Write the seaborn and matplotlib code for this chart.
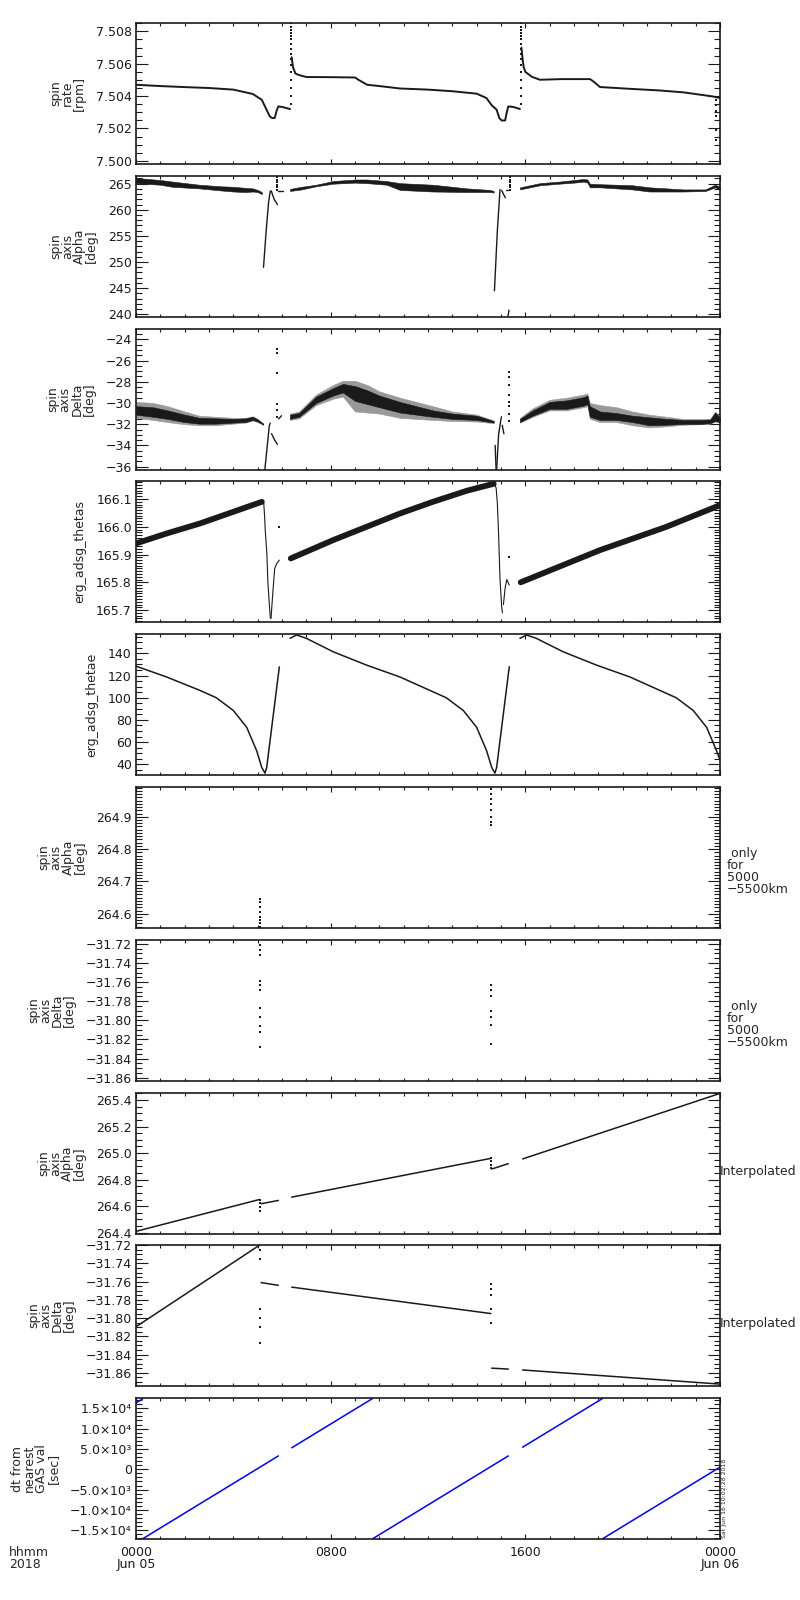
import matplotlib
matplotlib.use('Agg')
import matplotlib.pyplot as plt
import matplotlib.ticker as mticker
import pandas as pd
import seaborn as sns

sns.set_theme(style='white')
plt.rcParams['font.family'] = ['DejaVu Sans']
plt.rcParams.update({
    'xtick.direction': 'in', 'ytick.direction': 'in',
    'xtick.top': True, 'ytick.right': True,
    'xtick.bottom': True, 'ytick.left': True,
    'xtick.major.size': 3.6, 'xtick.minor.size': 2.2,
    'ytick.major.size': 8.6, 'ytick.minor.size': 4.3,
    'xtick.major.width': 0.8, 'xtick.minor.width': 0.8,
    'ytick.major.width': 0.8, 'ytick.minor.width': 0.8,
    'xtick.color': 'k', 'ytick.color': 'k',
    'axes.edgecolor': 'k', 'axes.linewidth': 1.2,
    'xtick.labelsize': 9, 'ytick.labelsize': 9,
    'ytick.major.pad': 3, 'xtick.major.pad': 5,
})

# ---- data (hours of 2018-06-05) ----

# spin rate [rpm]
rate_h = [[0.0, 1.0, 2.1, 3.0, 4.0, 4.8, 5.17, 5.3, 5.4, 5.5, 5.6, 5.7, 5.78, 5.85, 6.0, 6.33],
          [6.40, 6.45, 6.55, 6.7, 7.0, 8.0, 9.0, 9.15, 9.5, 10.0, 10.85, 12.0, 13.0, 14.0, 14.4,
           14.62, 14.82, 14.93, 15.03, 15.17, 15.23, 15.3, 15.5, 15.78],
          [15.84, 15.88, 15.93, 16.0, 16.26, 16.6, 17.5, 18.66, 18.8, 19.07, 20.4, 21.5, 22.5, 23.7, 24.0]]
rate_v = [[7.5047, 7.50462, 7.50455, 7.5045, 7.5044, 7.50413, 7.50377, 7.50336, 7.50305, 7.50274,
           7.50264, 7.50264, 7.5031, 7.50336, 7.50333, 7.5032],
          [7.5064, 7.5058, 7.5054, 7.5053, 7.50518, 7.50517, 7.50515, 7.5050, 7.5047, 7.50462, 7.50447,
           7.5044, 7.5043, 7.50415, 7.50388, 7.50343, 7.50316, 7.50264, 7.50249, 7.50249, 7.50295,
           7.50336, 7.50333, 7.5032],
          [7.5070, 7.5064, 7.5058, 7.5055, 7.5052, 7.50501, 7.50505, 7.50505, 7.5049, 7.50456, 7.50444,
           7.50435, 7.50423, 7.50398, 7.50388]]
rate_dot_h = [6.36, 15.81, 23.84]
rate_dot_v = [[7.5035, 7.5040, 7.5045, 7.5050, 7.5055, 7.5059, 7.5063, 7.5066, 7.5069,
               7.5072, 7.5075, 7.5077, 7.5079, 7.5081, 7.5083, 7.5085],
              [7.5035, 7.5040, 7.5045, 7.5050, 7.5055, 7.5059, 7.5063, 7.5066, 7.5069,
               7.5072, 7.5075, 7.5077, 7.5079, 7.5081, 7.5083, 7.5085],
              [7.50377, 7.50346, 7.50305, 7.50274, 7.50192, 7.5013]]

# spin axis Alpha [deg]
alpha_band_h = [[0.0, 1.0, 1.5, 2.6, 3.5, 4.0, 4.5, 4.8, 5.0, 5.17],
                [6.33, 6.8, 7.4, 8.1, 9.0, 9.5, 10.3, 10.85, 12.2, 13.6, 14.55, 14.7],
                [15.78, 16.6, 17.4, 18.0, 18.4, 18.55, 18.65, 19.07, 20.4, 21.1, 22.5, 23.4, 23.8, 24.0]]
alpha_band_hi = [[266.1, 265.7, 265.4, 264.8, 264.5, 264.4, 264.2, 264.1, 263.8, 263.4],
                 [264.0, 264.4, 264.8, 265.5, 265.8, 265.8, 265.5, 265.1, 264.8, 264.1, 263.8, 263.6],
                 [264.3, 265.1, 265.4, 265.7, 265.9, 265.8, 265.0, 264.9, 264.7, 264.3, 263.9, 263.9, 264.8, 264.4]]
alpha_band_lo = [[265.1, 264.8, 264.4, 264.1, 263.7, 263.5, 263.4, 263.5, 263.4, 263.0],
                 [263.6, 263.9, 264.5, 265.0, 265.2, 265.1, 264.8, 263.8, 263.5, 263.4, 263.4, 263.3],
                 [263.9, 264.7, 265.0, 265.2, 265.4, 265.2, 264.3, 264.3, 263.9, 263.5, 263.5, 263.6, 264.3, 263.9]]
alpha_line_h = [[5.24, 5.35, 5.45, 5.52], [5.56, 5.68, 5.81], [5.85, 6.05],
                [14.73, 14.85, 14.96], [15.03, 15.1, 15.18], [15.2, 15.3], [15.28, 15.33]]
alpha_line_v = [[249.0, 256.0, 261.5, 263.6], [263.6, 262.0, 261.0], [263.6, 263.6],
                [244.5, 256.0, 263.9], [263.7, 263.0, 262.3], [263.7, 263.7], [239.5, 240.8]]
alpha_dot_h = [5.81, 15.35]
alpha_dot_v = [[263.8, 264.3, 264.8, 265.3, 265.8, 266.2],
               [263.8, 264.3, 264.8, 265.3, 265.8, 266.3]]

# spin axis Delta [deg]
delta_band_h = [[0.0, 0.7, 1.3, 2.0, 2.6, 3.3, 4.0, 4.5, 4.8, 5.0, 5.23],
                [6.33, 6.7, 7.4, 8.1, 8.5, 9.0, 9.5, 10.0, 10.85, 12.2, 13.0, 14.0, 14.7],
                [15.78, 16.3, 17.0, 17.7, 18.4, 18.55, 18.65, 19.07, 19.75, 20.4, 21.1, 21.8, 22.5,
                 23.2, 23.6, 23.8, 24.0]]
delta_core_hi = [[-30.3, -30.4, -30.7, -31.1, -31.4, -31.45, -31.5, -31.45, -31.3, -31.55, -31.95],
                 [-31.1, -30.95, -29.4, -28.6, -28.2, -28.4, -28.8, -29.3, -29.9, -30.7, -31.0, -31.2, -31.7],
                 [-31.5, -30.7, -29.9, -29.75, -29.45, -29.3, -30.3, -30.8, -30.95, -31.2, -31.35, -31.5,
                  -31.6, -31.6, -31.55, -30.9, -31.4]]
delta_core_lo = [[-31.1, -31.3, -31.5, -31.8, -31.95, -31.95, -31.85, -31.8, -31.6, -31.75, -32.05],
                 [-31.5, -31.3, -30.0, -29.3, -29.0, -29.8, -30.1, -30.4, -30.9, -31.3, -31.5, -31.6, -31.85],
                 [-31.8, -31.2, -30.55, -30.55, -30.25, -30.1, -31.3, -31.6, -31.6, -31.8, -32.1, -32.05,
                  -31.98, -31.98, -31.9, -31.7, -31.8]]
delta_out_hi = [[-29.9, -30.0, -30.3, -30.8, -31.2, -31.3, -31.4, -31.4, -31.25, -31.5, -31.95],
                [-31.0, -30.8, -29.2, -28.3, -27.9, -27.9, -28.3, -28.9, -29.5, -30.3, -30.8, -31.1, -31.65],
                [-31.4, -30.5, -29.7, -29.5, -29.2, -29.1, -30.0, -30.2, -30.4, -30.8, -31.1, -31.3,
                 -31.5, -31.5, -31.5, -30.8, -31.3]]
delta_out_lo = [[-31.4, -31.6, -31.8, -32.0, -32.1, -32.1, -31.95, -31.85, -31.65, -31.8, -32.05],
                [-31.6, -31.45, -30.2, -29.6, -29.4, -30.8, -30.9, -31.0, -31.4, -31.6, -31.7, -31.75, -31.9],
                [-31.85, -31.3, -30.7, -30.7, -30.4, -30.3, -31.5, -31.8, -31.8, -32.1, -32.3, -32.2,
                 -32.05, -32.0, -31.95, -31.75, -31.85]]
delta_line_h = [[5.29, 5.48, 5.52], [5.57, 5.7, 5.81], [5.86, 5.98],
                [14.76, 14.8], [14.82, 14.9, 15.0, 15.02], [15.05, 15.12]]
delta_line_v = [[-36.4, -32.1, -31.9], [-32.9, -33.5, -33.9], [-31.5, -31.2],
                [-34.0, -36.4], [-36.4, -33.0, -31.5, -31.3], [-32.1, -32.9]]
delta_dot_h = [5.81, 15.34]
delta_dot_v = [[-24.86, -25.33, -27.2, -30.1, -30.7, -31.35],
               [-27.08, -27.55, -28.34, -29.2, -29.9, -30.3, -31.0, -31.66]]

# erg_adsg_thetas
thetas_band_h = [[0.0, 1.26, 2.63, 4.0, 5.17],
                 [6.36, 8.1, 10.85, 12.2, 13.6, 14.7],
                 [15.81, 19.07, 21.8, 24.0]]
thetas_band_v = [[165.94, 165.976, 166.012, 166.054, 166.09],
                 [165.886, 165.952, 166.048, 166.09, 166.13, 166.155],
                 [165.80, 165.916, 166.0, 166.078]]
thetas_line_h = [[5.17, 5.25, 5.29, 5.31, 5.38, 5.42, 5.48, 5.52], [5.55, 5.62, 5.7, 5.8, 5.89],
                 [14.72, 14.8, 14.85, 14.9, 14.96, 15.03, 15.06], [15.1, 15.17, 15.24, 15.34]]
thetas_line_v = [[166.09, 166.085, 166.03, 165.99, 165.9, 165.8, 165.72, 165.67],
                 [165.67, 165.76, 165.85, 165.87, 165.88],
                 [166.155, 166.14, 166.085, 165.976, 165.81, 165.71, 165.69],
                 [165.72, 165.78, 165.81, 165.79]]
thetas_dot_h = [5.89, 15.34]
thetas_dot_v = [[166.0], [165.89]]

# erg_adsg_thetae
thetae_h = [[0.0, 1.26, 2.63, 3.3, 4.0, 4.55, 4.96, 5.17, 5.3, 5.37, 5.89],
            [6.33, 6.6, 7.0, 8.1, 9.48, 10.85, 12.08, 12.75, 13.45, 14.0, 14.41, 14.62, 14.75, 14.82, 15.34],
            [15.78, 16.05, 16.45, 17.55, 18.93, 20.3, 21.53, 22.2, 22.9, 23.45, 23.86, 24.0]]
thetae_v = [[128.5, 118.7, 106.6, 100.0, 88.5, 73.3, 52.1, 37.0, 32.0, 37.0, 127.8],
            [153.6, 156.6, 153.6, 141.5, 129.4, 118.7, 106.6, 100.0, 88.5, 73.3, 52.1, 37.0, 32.0, 37.0, 128.0],
            [153.6, 156.6, 153.6, 141.5, 129.4, 118.7, 106.6, 100.0, 88.5, 73.3, 52.1, 44.0]]

# spin axis Alpha / Delta only for 5000-5500km
alpha_only_h = [5.1, 14.58]
alpha_only_v = [[264.645, 264.635, 264.62, 264.605, 264.59, 264.58, 264.57, 264.56],
                [264.985, 264.97, 264.955, 264.94, 264.92, 264.9, 264.885, 264.875]]
delta_only_h = [5.1, 14.58]
delta_only_v = [[-31.721, -31.726, -31.732, -31.759, -31.763, -31.768, -31.787, -31.797,
                 -31.806, -31.812, -31.828],
                [-31.763, -31.768, -31.775, -31.79, -31.797, -31.805, -31.825]]

# interpolated spin axis
alpha_int_h = [[0.0, 5.07], [5.14, 5.85], [6.4, 14.58], [14.62, 15.3], [15.89, 24.0]]
alpha_int_v = [[264.41, 264.65], [264.618, 264.643], [264.668, 264.96], [264.88, 264.92], [264.956, 265.45]]
alpha_int_dot_h = [5.1, 14.58]
alpha_int_dot_v = [[264.65, 264.62, 264.59, 264.56],
                   [264.965, 264.94, 264.91, 264.89]]
delta_int_h = [[0.0, 5.07], [5.14, 5.85], [6.4, 14.58], [14.62, 15.3], [15.89, 24.0]]
delta_int_v = [[-31.8095, -31.72], [-31.761, -31.764], [-31.766, -31.795], [-31.855, -31.856],
               [-31.857, -31.8725]]
delta_int_dot_h = [5.1, 14.58]
delta_int_dot_v = [[-31.725, -31.735, -31.79, -31.80, -31.81, -31.827],
                   [-31.763, -31.768, -31.775, -31.79, -31.805]]

# dt from nearest GAS value [sec]
gas_h = [[0.0, 0.27], [0.27, 5.85], [6.4, 9.72], [9.72, 15.3], [15.89, 19.17], [19.17, 24.0]]
gas_v = [[16300, 17300], [-17100, 3285], [5290, 17400], [-17100, 3285], [5440, 17400], [-17100, 530]]
gas_ticks = [-15000, -10000, -5000, 0, 5000, 10000, 15000]
gas_tick_labels = ['\u22121.5\u00d710\u2074', '\u22121.0\u00d710\u2074', '\u22125.0\u00d710\u00b3', '0',
                   '5.0\u00d710\u00b3', '1.0\u00d710\u2074', '1.5\u00d710\u2074']

x_ticks = [0, 8, 16, 24]
x_tick_labels = ['0000\nJun 05', '0800', '1600', '0000\nJun 06']


def draw_lines(ax, hs, vs, color='k', lw=1.0):
    frames = [pd.DataFrame({'h': h, 'v': v, 'seg': i}) for i, (h, v) in enumerate(zip(hs, vs))]
    df = pd.concat(frames, ignore_index=True)
    sns.lineplot(data=df, x='h', y='v', units='seg', estimator=None, sort=False,
                 color=color, lw=lw, ax=ax, legend=False)


def draw_dots(ax, hs, vals, size=3):
    x = [h for h, vs in zip(hs, vals) for _ in vs]
    y = [v for vs in vals for v in vs]
    sns.scatterplot(x=x, y=y, marker='s', s=size, color='k', linewidth=0, ax=ax)


def draw_band(ax, hs, los, his, color='k'):
    for h, lo, hi in zip(hs, los, his):
        ax.fill_between(h, lo, hi, color=color, lw=0.4)


def style_axis(ax, ylim, major, minor, fmt, label):
    ax.set_xlim(0, 24)
    ax.set_ylim(*ylim)
    ax.xaxis.set_major_locator(mticker.FixedLocator(x_ticks))
    ax.xaxis.set_minor_locator(mticker.MultipleLocator(1))
    ax.yaxis.set_major_locator(mticker.MultipleLocator(major))
    ax.yaxis.set_minor_locator(mticker.MultipleLocator(minor))
    ax.yaxis.set_major_formatter(
        mticker.FuncFormatter(lambda v, p: fmt.format(v).replace('-', '\u2212')))
    ax.set_xlabel('')
    ax.set_ylabel(label, fontsize=9, linespacing=0.9, labelpad=7)
    ax.tick_params(which='both', top=True, right=True, direction='in', labelbottom=False)
    for s in ax.spines.values():
        s.set_color('k')
        s.set_linewidth(1.2)


fig = plt.figure(figsize=(8, 16), dpi=100)
tops = [23, 176, 329, 481, 634, 787, 940, 1093, 1245, 1398]
axes = [fig.add_axes([136 / 800, 1 - (t + 141) / 1600, 584 / 800, 141 / 1600]) for t in tops]
for ax in axes:
    ax.set_facecolor('white')

# 1 spin rate
ax = axes[0]
draw_lines(ax, rate_h, rate_v, lw=1.4)
draw_dots(ax, rate_dot_h, rate_dot_v, size=1.5)
style_axis(ax, (7.4998, 7.50852), 0.002, 0.0005, '{:.3f}', 'spin\nrate\n[rpm]')

# 2 spin axis alpha
ax = axes[1]
draw_band(ax, alpha_band_h, alpha_band_lo, alpha_band_hi)
draw_lines(ax, alpha_line_h, alpha_line_v, lw=1.0)
draw_dots(ax, alpha_dot_h, alpha_dot_v, size=1.5)
style_axis(ax, (239.48, 266.47), 5, 1, '{:.0f}', 'spin\naxis\nAlpha\n[deg]')

# 3 spin axis delta
ax = axes[2]
draw_band(ax, delta_band_h, delta_out_lo, delta_out_hi, color='0.6')
draw_band(ax, delta_band_h, delta_core_lo, delta_core_hi, color='k')
draw_lines(ax, delta_line_h, delta_line_v, lw=1.0)
draw_dots(ax, delta_dot_h, delta_dot_v, size=1.5)
style_axis(ax, (-36.32, -23.02), 2, 0.5, '{:.0f}', 'spin\naxis\nDelta\n[deg]')

# 4 thetas
ax = axes[3]
draw_lines(ax, thetas_band_h, thetas_band_v, lw=4.2)
draw_lines(ax, thetas_line_h, thetas_line_v, lw=0.8)
draw_dots(ax, thetas_dot_h, thetas_dot_v, size=1.5)
style_axis(ax, (165.657, 166.165), 0.1, 0.01, '{:.1f}', 'erg_adsg_thetas')

# 5 thetae
ax = axes[4]
draw_lines(ax, thetae_h, thetae_v, lw=1.1)
style_axis(ax, (30.3, 157.5), 20, 5, '{:.0f}', 'erg_adsg_thetae')

# 6 alpha only
ax = axes[5]
draw_dots(ax, alpha_only_h, alpha_only_v, size=1.5)
style_axis(ax, (264.556, 264.992), 0.1, 0.01, '{:.1f}', 'spin\naxis\nAlpha\n[deg]')

# 7 delta only
ax = axes[6]
draw_dots(ax, delta_only_h, delta_only_v, size=1.5)
style_axis(ax, (-31.8635, -31.716), 0.02, 0.005, '{:.2f}', 'spin\naxis\nDelta\n[deg]')

# 8 alpha interpolated
ax = axes[7]
draw_lines(ax, alpha_int_h, alpha_int_v, lw=1.1)
draw_dots(ax, alpha_int_dot_h, alpha_int_dot_v, size=1.5)
style_axis(ax, (264.39, 265.453), 0.2, 0.05, '{:.1f}', 'spin\naxis\nAlpha\n[deg]')

# 9 delta interpolated
ax = axes[8]
draw_lines(ax, delta_int_h, delta_int_v, lw=1.1)
draw_dots(ax, delta_int_dot_h, delta_int_dot_v, size=1.5)
style_axis(ax, (-31.8746, -31.7197), 0.02, 0.005, '{:.2f}', 'spin\naxis\nDelta\n[deg]')

# 10 dt from nearest GAS value
ax = axes[9]
draw_lines(ax, gas_h, gas_v, color='#0000ff', lw=1.1)
style_axis(ax, (-17140, 17530), 5000, 1000, '{:.0f}', 'dt from\nnearest\nGAS val\n[sec]')
ax.yaxis.set_major_locator(mticker.FixedLocator(gas_ticks))
ax.yaxis.set_major_formatter(mticker.FixedFormatter(gas_tick_labels))
ax.tick_params(labelbottom=True)
ax.set_xticks(x_ticks)
ax.set_xticklabels(x_tick_labels)
for t in ax.get_xticklabels():
    t.set_linespacing(0.9)
ax.text(1.004, 0.01, 'Sat Jun 16 10:02:28 2018', rotation=90, transform=ax.transAxes,
        fontsize=4.5, ha='left', va='bottom')

# side notes
for ax in (axes[5], axes[6]):
    ax.text(1.012, 0.4, ' only\nfor\n5000\n\u22125500km', transform=ax.transAxes,
            ha='left', va='center', fontsize=9, linespacing=0.9)
for ax in (axes[7], axes[8]):
    ax.text(1.0, 0.44, 'Interpolated', transform=ax.transAxes,
            ha='left', va='center', fontsize=9)

fig.text(9 / 800, 1 - 1546 / 1600, 'hhmm\n2018', ha='left', va='top', fontsize=9, linespacing=0.9)

fig.savefig('out.png', dpi=100, facecolor='white')
